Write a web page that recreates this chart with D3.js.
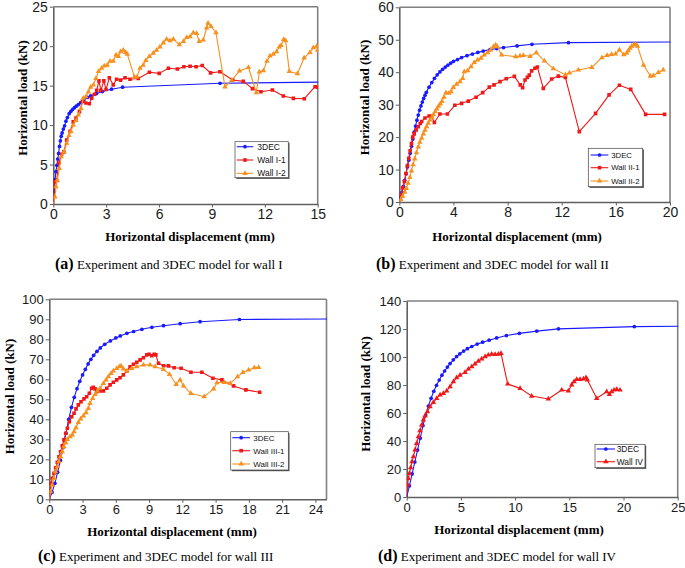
<!DOCTYPE html>
<html><head><meta charset="utf-8">
<script src="https://cdn.jsdelivr.net/npm/d3@7"></script>
<style>body{margin:0;background:#fff}svg{display:block}</style>
</head><body>
<svg id="c" width="685" height="568"></svg>
<script>
// ---------- DATA ----------
const wallI_3DEC = [[0,0],[0.05,1.6],[0.1,3.1],[0.15,4.1],[0.2,4.9],[0.25,5.7],[0.3,6.4],[0.35,7.3],[0.4,8.0],[0.45,8.6],[0.5,9.0],[0.57,9.5],[0.64,9.9],[0.72,10.5],[0.8,10.95],[0.9,11.45],[1.0,11.75],[1.1,12.0],[1.2,12.2],[1.3,12.4],[1.42,12.6],[1.55,12.85],[1.74,13.2],[1.95,13.5],[2.12,13.7],[2.45,14.0],[2.78,14.25],[3.3,14.55],[3.93,14.8],[9.46,15.3],[15.4,15.45]];
const wallI_1 = [[0,0],[0.06,2.8],[0.19,3.0],[0.32,5.2],[0.47,6.3],[0.6,6.6],[0.76,8.1],[0.95,9.2],[1.13,10.4],[1.29,10.9],[1.48,11.7],[1.66,13.0],[1.85,12.8],[2.04,12.7],[2.18,13.4],[2.33,13.9],[2.46,14.4],[2.59,15.6],[2.7,14.4],[2.87,15.6],[2.99,14.5],[3.18,16.0],[3.4,15.1],[3.59,15.8],[3.82,15.7],[4.07,16.0],[4.35,15.8],[4.82,15.9],[5.45,16.7],[6.01,16.55],[6.53,17.2],[7.04,17.1],[7.41,17.4],[7.76,17.45],[8.1,17.4],[8.45,17.55],[8.92,16.62],[9.45,16.76],[10.18,15.71],[10.78,15.54],[11.3,14.62],[11.78,14.22],[12.43,14.44],[13.05,13.68],[13.62,13.39],[14.24,13.34],[14.85,14.86],[15.0,14.8]];
const wallI_2 = [[0,0],[0.09,0.9],[0.15,2.2],[0.23,3.0],[0.34,4.5],[0.45,6.0],[0.6,6.6],[0.76,7.7],[0.89,8.7],[1.0,9.2],[1.13,10.0],[1.29,10.6],[1.42,11.3],[1.57,12.1],[1.7,13.4],[1.85,13.6],[1.99,14.2],[2.12,14.8],[2.27,15.1],[2.42,15.9],[2.57,16.8],[2.74,17.2],[2.89,17.5],[3.06,17.6],[3.22,18.1],[3.4,18.1],[3.56,18.9],[3.69,18.7],[3.82,19.3],[3.97,19.5],[4.1,19.2],[4.2,19.0],[4.6,16.1],[4.75,16.1],[4.92,17.2],[5.1,17.6],[5.25,18.2],[5.45,18.7],[5.67,19.1],[5.86,19.5],[6.05,19.9],[6.24,20.4],[6.43,20.9],[6.62,20.7],[6.81,20.9],[7.15,20.2],[7.38,20.6],[7.57,21.1],[7.76,21.2],[7.94,21.7],[8.13,21.6],[8.28,20.6],[8.51,20.8],[8.7,22.3],[8.78,22.9],[8.95,22.5],[9.23,21.7],[9.74,14.85],[10.12,15.7],[10.56,16.85],[11.07,17.3],[11.52,14.1],[11.69,16.75],[11.92,16.9],[12.12,18.1],[12.29,18.75],[12.48,19.0],[12.67,19.3],[12.82,19.9],[12.92,20.1],[13.07,20.85],[13.18,20.7],[13.39,16.8],[13.85,16.5],[14.23,18.5],[14.56,19.2],[14.75,19.8],[14.94,20.0],[15.0,19.5]];

const wallII_3DEC = [[0,0],[0.1,1.5],[0.2,3],[0.3,4.8],[0.4,6.7],[0.5,8.7],[0.6,10.8],[0.7,12.9],[0.8,15.0],[0.9,17.2],[1.0,19.4],[1.1,21.5],[1.2,23.4],[1.3,25.2],[1.4,26.8],[1.5,28.3],[1.6,29.6],[1.7,30.8],[1.8,31.9],[1.9,32.9],[2.0,33.8],[2.2,35.4],[2.4,36.8],[2.6,38.1],[2.8,39.2],[3.0,40.1],[3.2,40.9],[3.4,41.6],[3.6,42.2],[3.8,42.8],[4.0,43.3],[4.3,43.9],[4.6,44.5],[5.0,45.1],[5.4,45.6],[5.8,46.1],[6.2,46.5],[6.7,46.95],[7.2,47.3],[7.7,47.6],[8.7,48.1],[9.8,48.6],[12.5,49.1],[20.5,49.3]];
const wallII_1 = [[0,0],[0.12,2.0],[0.25,4.3],[0.37,6.3],[0.49,8.8],[0.6,11.2],[0.7,13.5],[0.8,15.8],[0.9,18.0],[0.99,20.0],[1.1,21.0],[1.25,22.2],[1.4,23.2],[1.55,24.2],[1.65,24.8],[1.9,25.9],[2.2,26.5],[2.38,26.4],[2.59,24.5],[3.0,27.1],[3.55,27.1],[4.1,29.8],[4.6,30.4],[5.1,31.1],[5.67,32.3],[6.16,33.7],[6.65,35.4],[7.0,36.1],[7.44,37.1],[7.9,38.0],[8.5,38.7],[8.94,36.1],[9.11,35.2],[9.29,37.6],[9.46,38.4],[9.6,39.1],[9.78,40.4],[10.02,41.2],[10.2,41.6],[10.64,35.0],[11.26,37.9],[11.75,38.8],[12.27,38.4],[13.3,21.7],[14.5,27.3],[15.5,33.0],[16.26,36.0],[17.1,34.7],[18.2,27.0],[19.6,27.0]];
const wallII_2 = [[0,0],[0.12,0.8],[0.25,1.8],[0.4,3.0],[0.52,4.2],[0.65,5.8],[0.78,7.6],[0.9,9.6],[1.02,11.5],[1.14,13.3],[1.27,15.2],[1.4,17.0],[1.52,18.4],[1.65,19.7],[1.78,21.0],[1.9,22.1],[2.02,23.2],[2.14,24.3],[2.27,25.3],[2.4,26.1],[2.52,26.9],[2.65,27.8],[2.77,28.7],[2.9,29.5],[3.03,30.2],[3.15,31.0],[3.3,32.3],[3.45,33.7],[3.65,33.5],[3.82,34.0],[3.99,35.3],[4.24,36.3],[4.48,37.1],[4.68,38.1],[4.8,40.2],[5.05,40.5],[5.3,41.7],[5.54,43.0],[5.79,43.8],[6.03,44.3],[6.28,45.3],[6.53,46.0],[6.75,46.9],[6.95,47.9],[7.12,48.4],[7.24,47.9],[7.56,45.3],[8.6,44.8],[8.92,45.0],[9.16,45.2],[9.66,44.9],[10.12,46.0],[10.72,43.5],[11.38,41.1],[12.27,39.2],[12.57,39.8],[13.23,40.7],[14.22,41.5],[14.97,44.5],[15.35,45.2],[15.68,45.5],[15.98,45.6],[16.26,46.9],[16.58,45.4],[16.8,45.9],[16.92,46.6],[17.04,47.4],[17.17,48.0],[17.32,48.4],[17.46,48.6],[17.6,48.0],[18.05,42.2],[18.55,38.8],[18.77,38.9],[19.14,39.9],[19.5,40.7]];

const wallIII_3DEC = [[0,0],[0.25,3.5],[0.5,8],[0.75,13.5],[1.0,19.5],[1.25,26],[1.5,33],[1.75,40],[2.0,46],[2.25,51],[2.5,55.3],[2.75,59],[3.0,62.2],[3.25,65],[3.5,67.7],[3.75,70],[4.0,72],[4.3,74],[4.6,75.7],[5.0,77.5],[5.5,79.2],[6.0,80.7],[6.4,81.7],[7.0,83.0],[7.6,83.9],[8.35,85.0],[9.25,86.0],[10.3,86.8],[11.8,87.8],[13.6,88.8],[17.15,89.9],[25.5,90.2]];
const wallIII_1 = [[0,0],[0.06,3.8],[0.15,8],[0.27,10.5],[0.42,13],[0.57,15.8],[0.72,18.5],[0.87,21.3],[1.02,23.8],[1.17,26.7],[1.32,29.7],[1.48,33],[1.63,35.5],[1.81,38.8],[2.02,41.3],[2.23,43],[2.41,45.2],[2.62,47.2],[2.86,48.8],[3.13,50.2],[3.37,51.3],[3.61,53],[3.82,55.5],[3.97,56],[4.13,55.2],[4.28,53.8],[4.58,54.2],[4.88,54.2],[5.18,55.5],[5.48,57.2],[5.78,58.5],[6.08,59.7],[6.38,60.8],[6.68,62.2],[6.99,64.2],[7.29,66.3],[7.59,67.5],[7.89,68.5],[8.19,69.7],[8.49,70.8],[8.79,72.2],[9.0,72.5],[9.24,71.8],[9.46,72.5],[9.61,72.2],[9.85,68],[10.3,66.8],[10.75,66.7],[11.26,65.8],[11.89,65.5],[12.77,63.5],[13.76,63.5],[14.76,60.5],[15.57,59.7],[16.62,56.7],[17.73,54.7],[18.97,53.5]];
const wallIII_2 = [[0,0],[0.12,3.8],[0.27,7.2],[0.42,10.5],[0.57,13.8],[0.72,16.3],[0.87,18.8],[1.02,21.3],[1.17,23.8],[1.32,26.3],[1.48,28.3],[1.63,30],[1.87,31.3],[2.08,32.2],[2.23,33.8],[2.41,35.8],[2.62,38.5],[2.83,40.2],[3.07,41.7],[3.31,43.3],[3.52,45.5],[3.67,48],[3.91,50.5],[4.13,52.5],[4.34,54.2],[4.58,55.5],[4.88,58],[5.12,59.7],[5.33,61.3],[5.57,63],[5.78,64.2],[6.08,65.5],[6.32,66.3],[6.47,66.7],[6.68,65.2],[6.99,64.2],[7.44,65.5],[7.89,66.3],[8.49,67.2],[9.09,67.2],[9.55,66.3],[10.3,65],[10.84,62.5],[11.44,57.5],[11.8,59.7],[12.1,56.7],[12.77,53],[13.97,51.3],[14.82,55.2],[15.12,58.3],[15.78,58.5],[16.32,58],[16.98,61.3],[17.46,63.5],[17.98,64.7],[18.49,65.8],[18.88,66]];

const wallIV_3DEC = [[0,0],[0.25,8],[0.5,16.5],[0.75,25],[1.0,33.5],[1.25,42],[1.5,51],[1.75,58.5],[2.0,65],[2.25,70.5],[2.5,75.5],[2.75,79.8],[3.0,83.5],[3.25,87],[3.5,90],[3.75,92.8],[4.0,95.3],[4.3,98],[4.6,100.3],[4.9,102.3],[5.25,104.2],[5.6,105.9],[6.0,107.5],[6.5,109.2],[7.0,110.6],[7.6,112],[8.3,113.6],[9.2,115.3],[10.4,116.9],[12.0,118.5],[14.0,120.1],[21.0,121.7],[25.5,122]];
const wallIV = [[0,0],[0.09,8.6],[0.15,13.3],[0.25,16.9],[0.37,21],[0.49,25.2],[0.62,28.8],[0.77,33.6],[0.92,38.3],[1.08,43.1],[1.23,47.4],[1.38,51.4],[1.54,55],[1.69,57.9],[1.91,61],[2.15,64.5],[2.46,67.6],[2.77,70.5],[3.08,72.9],[3.38,74],[3.69,75.7],[4.0,78.8],[4.31,82.4],[4.61,85.2],[4.92,87.1],[5.38,89],[5.69,91.4],[6.0,93.1],[6.3,95],[6.61,97.1],[6.92,98.6],[7.23,100.2],[7.53,101.4],[7.84,102.1],[8.15,101.9],[8.46,102.1],[8.7,102.6],[9.32,80.7],[10.46,77.6],[11.53,72.1],[13.07,70],[14.3,76.4],[14.91,75.7],[15.22,80],[15.44,82.4],[15.68,84],[15.99,84],[16.3,84.3],[16.54,85.2],[16.67,83.6],[17.53,70.5],[18.45,75.2],[18.7,73.3],[18.91,75.2],[19.13,76.4],[19.37,76.9],[19.68,76.4]];

const xTicksA = [0,3,6,9,12,15],  yTicksA = [0,5,10,15,20,25];
const xTicksB = [0,4,8,12,16,20], yTicksB = [0,10,20,30,40,50,60];
const xTicksC = [0,3,6,9,12,15,18,21,24], yTicksC = [0,10,20,30,40,50,60,70,80,90,100];
const xTicksD = [0,5,10,15,20,25], yTicksD = [0,20,40,60,80,100,120,140];

const legendA = ["3DEC","Wall I-1","Wall I-2"];
const legendB = ["3DEC","Wall II-1","Wall II-2"];
const legendC = ["3DEC","Wall III-1","Wall III-2"];
const legendD = ["3DEC","Wall IV"];

const captionLetters = ["(a)","(b)","(c)","(d)"];
const captionTexts = ["Experiment and 3DEC model for wall I","Experiment and 3DEC model for wall II","Experiment and 3DEC model for wall III","Experiment and 3DEC model for wall IV"];
const xTitle = "Horizontal displacement (mm)";
const yTitle = "Horizontal load (kN)";

// ---------- STYLES ----------
const BLUE = "#1a1aff", RED = "#f01818", ORANGE = "#f7901e";
const styleFor = {
  "3DEC": {color: BLUE, sym: d3.symbolCircle, size: 11},
  "red":  {color: RED, sym: d3.symbolSquare, size: 13},
  "orange": {color: ORANGE, sym: d3.symbolTriangle, size: 13},
  "redTri": {color: RED, sym: d3.symbolTriangle, size: 13}
};

const panels = [
  {l:53.3,r:317.7,t:6.7,b:204,xd:[0,15],yd:[0,25],xt:xTicksA,yt:yTicksA,fs:14,
   series:[[wallI_3DEC,"3DEC"],[wallI_1,"red"],[wallI_2,"orange"]],legend:legendA,
   leg:{x:235,y:141.7,w:53.3,h:36,rows:[146.7,160,173.3],lx1:236.7,lx2:253.3,tx:257.3,fs:8.5},
   yTitle:[22.7,98], xTitle:[190,241], cap:[55,269]},
  {l:399.3,r:670,t:7.3,b:202,xd:[0,20],yd:[0,60],xt:xTicksB,yt:yTicksB,fs:14,
   series:[[wallII_3DEC,"3DEC"],[wallII_1,"red"],[wallII_2,"orange"]],legend:legendB,
   leg:{x:588.3,y:148.3,w:54.4,h:38.4,rows:[155,167.7,181],lx1:590.7,lx2:608.3,tx:611.2,fs:7.8},
   yTitle:[364,97.5], xTitle:[517,241], cap:[376,269]},
  {l:49.3,r:326.5,t:299.3,b:499.3,xd:[0,25],yd:[0,100],xt:xTicksC,yt:yTicksC,fs:13,
   series:[[wallIII_3DEC,"3DEC"],[wallIII_1,"red"],[wallIII_2,"orange"]],legend:legendC,
   leg:{x:230.7,y:431.7,w:57.6,h:38.3,rows:[437.7,450.7,464],lx1:232.3,lx2:250,tx:253.3,fs:8},
   yTitle:[9,396.5], xTitle:[172,536], cap:[38,561]},
  {l:406.7,r:677.7,t:301,b:497,xd:[0,25],yd:[0,140],xt:xTicksD,yt:yTicksD,fs:13,
   series:[[wallIV_3DEC,"3DEC"],[wallIV,"redTri"]],legend:legendD,
   leg:{x:595,y:444.3,w:50,h:23.4,rows:[449,461.7],lx1:596.7,lx2:615,tx:616.7,fs:8.4},
   yTitle:[365,394], xTitle:[519,534], cap:[378,561]}
];

const svg = d3.select("#c");
svg.append("rect").attr("width",685).attr("height",568).attr("fill","#fff");

panels.forEach((p,i)=>{
  const x = d3.scaleLinear().domain(p.xd).range([p.l,p.r]);
  const y = d3.scaleLinear().domain(p.yd).range([p.b,p.t]);
  const g = svg.append("g");
  const cid = "clip"+i;
  svg.append("clipPath").attr("id",cid).append("rect")
    .attr("x",p.l).attr("y",p.t-4).attr("width",p.r-p.l+0.5).attr("height",p.b-p.t+4);

  g.append("line").attr("x1",p.l).attr("x2",p.r).attr("y1",p.t).attr("y2",p.t).attr("stroke","#808080").attr("stroke-width",1.4);
  g.append("line").attr("x1",p.r).attr("x2",p.r).attr("y1",p.t).attr("y2",p.b).attr("stroke","#808080").attr("stroke-width",1.6);

  const xa = g.append("g").attr("transform",`translate(0,${p.b})`)
    .call(d3.axisBottom(x).tickValues(p.xt).tickSize(3.5).tickSizeOuter(0).tickPadding(2).tickFormat(d3.format("d")));
  const ya = g.append("g").attr("transform",`translate(${p.l},0)`)
    .call(d3.axisLeft(y).tickValues(p.yt).tickSize(3.5).tickSizeOuter(0).tickPadding(2).tickFormat(d3.format("d")));
  [xa,ya].forEach(a=>{
    a.select(".domain").attr("stroke","#606060").attr("stroke-width",1.6);
    a.selectAll(".tick line").attr("stroke","#606060").attr("stroke-width",1);
    a.selectAll("text").attr("fill","#1a1a1a").style("font-family","'Liberation Sans',Arial,sans-serif").style("font-size",p.fs+"px");
  });

  const line = d3.line().x(d=>x(d[0])).y(d=>y(d[1]));
  const plot = g.append("g").attr("clip-path",`url(#${cid})`);
  p.series.forEach(([data,key])=>{
    const st = styleFor[key];
    plot.append("path").datum(data).attr("d",line).attr("fill","none")
      .attr("stroke",st.color).attr("stroke-width",1.1).attr("stroke-linejoin","round");
    const sym = d3.symbol().type(st.sym).size(st.size);
    plot.selectAll(null).data(data.slice(1)).enter().append("path")
      .attr("d",sym).attr("fill",st.color)
      .attr("transform",d=>`translate(${x(d[0])},${y(d[1])})`);
  });

  const L = p.leg;
  g.append("rect").attr("x",L.x+1.2).attr("y",L.y+1.2).attr("width",L.w).attr("height",L.h).attr("fill","#555");
  g.append("rect").attr("x",L.x).attr("y",L.y).attr("width",L.w).attr("height",L.h).attr("fill","#fff").attr("stroke","#444").attr("stroke-width",0.7);
  p.legend.forEach((name,k)=>{
    const st = styleFor[p.series[k][1]];
    const yy = L.rows[k];
    g.append("line").attr("x1",L.lx1).attr("x2",L.lx2).attr("y1",yy).attr("y2",yy).attr("stroke",st.color).attr("stroke-width",1.1);
    g.append("path").attr("d",d3.symbol().type(st.sym).size(st.size)()).attr("fill",st.color)
      .attr("transform",`translate(${(L.lx1+L.lx2)/2},${yy})`);
    g.append("text").attr("x",L.tx).attr("y",yy).attr("dy","0.35em").text(name)
      .style("font-family","'Liberation Sans',Arial,sans-serif").style("font-size",L.fs+"px").attr("fill","#111");
  });

  g.append("text").attr("transform",`translate(${p.yTitle[0]},${p.yTitle[1]}) rotate(-90)`)
    .attr("text-anchor","middle").attr("dy","0.35em").text(yTitle)
    .style("font-family","'Liberation Serif','Times New Roman',serif").style("font-weight","bold").style("font-size","13px");
  g.append("text").attr("x",p.xTitle[0]).attr("y",p.xTitle[1]).attr("text-anchor","middle").text(xTitle)
    .style("font-family","'Liberation Serif','Times New Roman',serif").style("font-weight","bold").style("font-size","13px");
  const cap = g.append("text").attr("x",p.cap[0]).attr("y",p.cap[1])
    .style("font-family","'Liberation Serif','Times New Roman',serif").style("font-size","13px");
  cap.append("tspan").text(captionLetters[i]).style("font-weight","bold").style("font-size","16px");
  cap.append("tspan").text(" "+captionTexts[i]);
});
</script>
</body></html>
